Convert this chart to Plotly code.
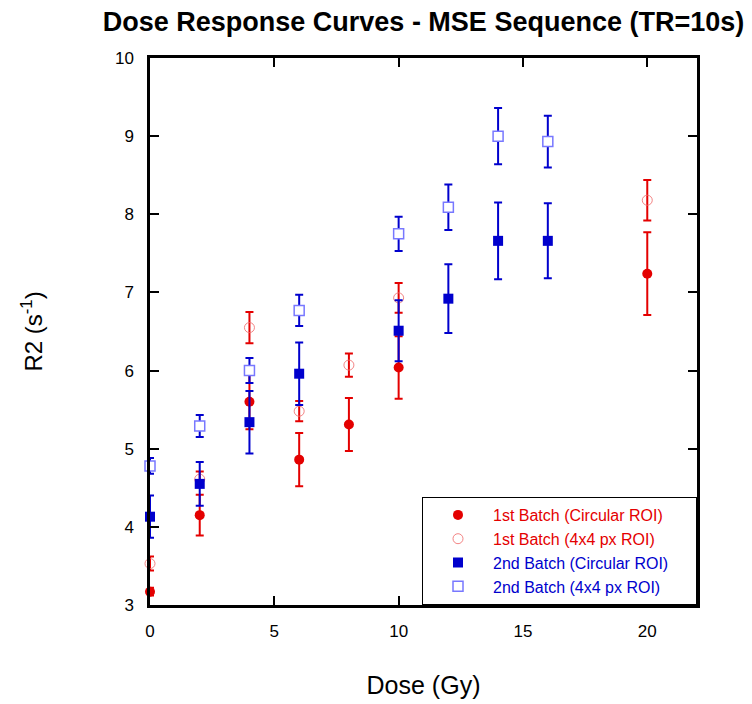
import plotly.graph_objects as go

# ---- data ----
dose_b1 = [0, 2, 4, 6, 8, 10, 20]
r2_b1_circ = [3.17, 4.15, 5.60, 4.86, 5.31, 6.04, 7.24]
err_b1_circ = [0.05, 0.26, 0.35, 0.34, 0.34, 0.40, 0.53]
r2_b1_px = [3.53, 4.61, 6.55, 5.48, 6.07, 6.93, 8.18]
err_b1_px = [0.09, 0.10, 0.20, 0.13, 0.15, 0.19, 0.26]

dose_b2 = [0, 2, 4, 6, 10, 12, 14, 16]
r2_b2_circ = [4.13, 4.55, 5.34, 5.96, 6.51, 6.92, 7.66, 7.66]
err_b2_circ = [0.27, 0.28, 0.40, 0.40, 0.39, 0.44, 0.49, 0.48]
r2_b2_px = [4.78, 5.29, 6.00, 6.77, 7.75, 8.09, 9.00, 8.93]
err_b2_px = [0.10, 0.14, 0.16, 0.20, 0.22, 0.29, 0.36, 0.33]

names = ["1st Batch (Circular ROI)", "1st Batch (4x4 px ROI)",
         "2nd Batch (Circular ROI)", "2nd Batch (4x4 px ROI)"]
x_ticks = [0, 5, 10, 15, 20]

RED = "rgb(228,0,0)"
BLUE = "rgb(0,0,205)"
FONT = "Liberation Sans, Arial, sans-serif"
PAD = "&nbsp;" * 5

fig = go.Figure()

def err(arr, color):
    return dict(type="data", array=arr, visible=True, color=color,
                thickness=2, width=4)

fig.add_trace(go.Scatter(
    x=dose_b1, y=r2_b1_circ, mode="markers",
    name=f"<span style='color:{RED}'>{names[0]}</span>{PAD}",
    marker=dict(symbol="circle", size=10, color=RED),
    error_y=err(err_b1_circ, RED), cliponaxis=False))
fig.add_trace(go.Scatter(
    x=dose_b1, y=r2_b1_px, mode="markers",
    name=f"<span style='color:{RED}'>{names[1]}</span>{PAD}",
    marker=dict(symbol="circle-open", size=10, color="rgba(240,110,110,0.85)",
                line=dict(width=1)),
    error_y=err(err_b1_px, RED), cliponaxis=False))
fig.add_trace(go.Scatter(
    x=dose_b2, y=r2_b2_circ, mode="markers",
    name=f"<span style='color:{BLUE}'>{names[2]}</span>{PAD}",
    marker=dict(symbol="square", size=10, color=BLUE),
    error_y=err(err_b2_circ, BLUE), cliponaxis=False))
fig.add_trace(go.Scatter(
    x=dose_b2, y=r2_b2_px, mode="markers",
    name=f"<span style='color:{BLUE}'>{names[3]}</span>{PAD}",
    marker=dict(symbol="square", size=10, color="white",
                line=dict(width=1.5, color="rgb(120,120,255)")),
    error_y=err(err_b2_px, BLUE), cliponaxis=False))

axis_common = dict(showgrid=False, zeroline=False, showline=True,
                   linecolor="black", linewidth=2.5, mirror="ticks",
                   ticks="inside", ticklen=9, tickwidth=2, tickcolor="black",
                   tickfont=dict(family=FONT, size=17, color="black"))

fig.update_xaxes(range=[0, 22], tickvals=x_ticks, ticklabelstandoff=9,
                 title=dict(text="Dose (Gy)", standoff=37,
                            font=dict(family=FONT, size=25, color="black")),
                 **axis_common)
fig.update_yaxes(range=[3, 10], dtick=1, ticklabelstandoff=10,
                 title=dict(text="R2 (s<sup>-1</sup>)", standoff=66,
                            font=dict(family=FONT, size=24, color="black")),
                 **axis_common)

fig.update_layout(
    width=752, height=704,
    margin=dict(l=142, r=63, t=50, b=107),
    paper_bgcolor="white", plot_bgcolor="white",
    title=dict(text="<b>Dose Response Curves - MSE Sequence (TR=10s)</b>",
               x=0.5, xref="paper", y=0.994, yref="container",
               xanchor="center", yanchor="top",
               font=dict(family=FONT, size=27, color="black")),
    legend=dict(x=1, y=0, xanchor="right", yanchor="bottom",
                bgcolor="white", bordercolor="black", borderwidth=1,
                font=dict(family=FONT, size=16), itemwidth=60,
                tracegroupgap=0),
    showlegend=True,
)

fig.write_html("out.html")
